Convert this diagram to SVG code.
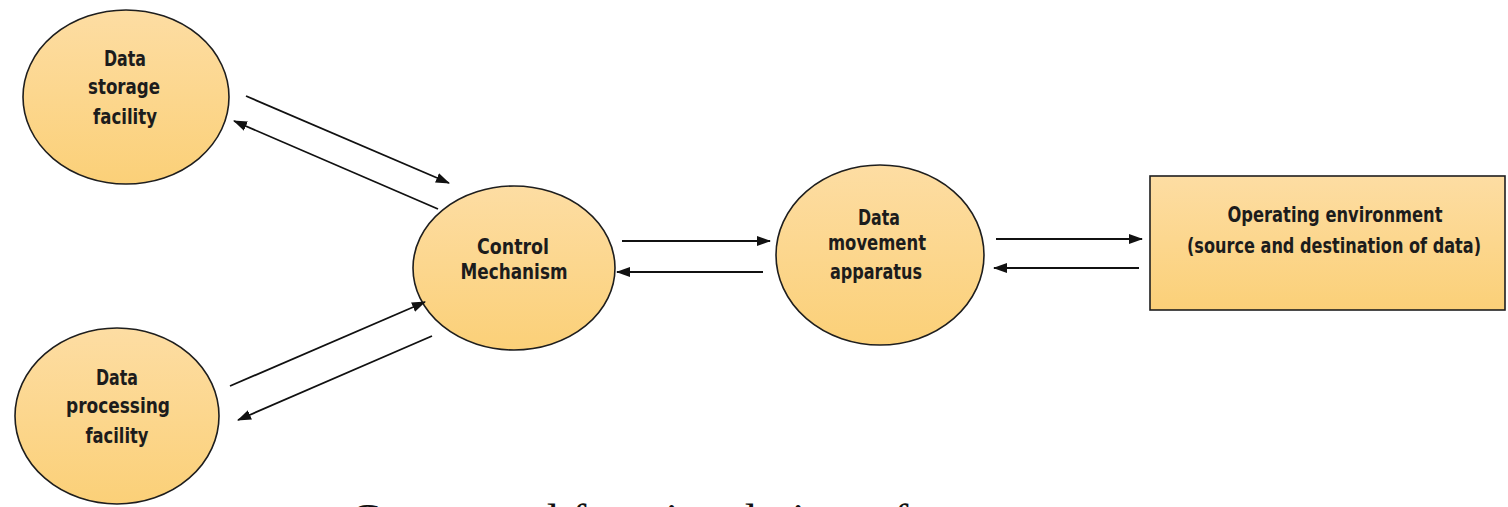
<svg xmlns="http://www.w3.org/2000/svg" width="1508" height="507" viewBox="0 0 1508 507">
<style>
.node{fill:url(#g);stroke:#1e1e1e;stroke-width:1.6}
.lbl{font-family:"DejaVu Sans Condensed","DejaVu Sans",sans-serif;font-weight:bold;font-size:21px;fill:#1c1c1c;text-anchor:middle}
.conn line{stroke:#111;stroke-width:1.8;marker-end:url(#ah)}
.cap{font-family:"Liberation Serif",serif;font-size:46px;fill:#111}
</style>
<defs>
<linearGradient id="g" x1="0" y1="0" x2="0" y2="1">
<stop offset="0" stop-color="#FDDDA3"/>
<stop offset="1" stop-color="#FBD078"/>
</linearGradient>
<marker id="ah" viewBox="0 0 14 10" refX="13" refY="5" markerWidth="14" markerHeight="10" markerUnits="userSpaceOnUse" orient="auto">
<path d="M0,0 L14,5 L0,10 z" fill="#111"/>
</marker>
</defs>
<rect width="1508" height="507" fill="#fff"/>
<g id="storage">
<ellipse class="node" cx="126" cy="97" rx="103" ry="87"/>
<text class="lbl" x="125" y="66" textLength="42" lengthAdjust="spacingAndGlyphs">Data</text>
<text class="lbl" x="124" y="94" textLength="72" lengthAdjust="spacingAndGlyphs">storage</text>
<text class="lbl" x="125" y="124" textLength="64" lengthAdjust="spacingAndGlyphs">facility</text>
</g>
<g id="processing">
<ellipse class="node" cx="117" cy="416" rx="102" ry="88"/>
<text class="lbl" x="117" y="385" textLength="42" lengthAdjust="spacingAndGlyphs">Data</text>
<text class="lbl" x="118" y="413" textLength="104" lengthAdjust="spacingAndGlyphs">processing</text>
<text class="lbl" x="117" y="443" textLength="63" lengthAdjust="spacingAndGlyphs">facility</text>
</g>
<g id="control">
<ellipse class="node" cx="514" cy="268" rx="101" ry="82"/>
<text class="lbl" x="513" y="254" textLength="72" lengthAdjust="spacingAndGlyphs">Control</text>
<text class="lbl" x="514" y="279" textLength="107" lengthAdjust="spacingAndGlyphs">Mechanism</text>
</g>
<g id="movement">
<ellipse class="node" cx="880" cy="255" rx="104" ry="90"/>
<text class="lbl" x="879" y="225" textLength="42" lengthAdjust="spacingAndGlyphs">Data</text>
<text class="lbl" x="877" y="250" textLength="98" lengthAdjust="spacingAndGlyphs">movement</text>
<text class="lbl" x="876" y="279" textLength="92" lengthAdjust="spacingAndGlyphs">apparatus</text>
</g>
<g id="environment">
<rect class="node" x="1150" y="176" width="355" height="134"/>
<text class="lbl" x="1335" y="222" textLength="215" lengthAdjust="spacingAndGlyphs">Operating environment</text>
<text class="lbl" x="1334" y="253" textLength="294" lengthAdjust="spacingAndGlyphs">(source and destination of data)</text>
</g>
<g id="connectors" class="conn">
<line x1="246" y1="96" x2="449" y2="183"/>
<line x1="438" y1="209" x2="234" y2="121"/>
<line x1="230" y1="386" x2="425" y2="302"/>
<line x1="432" y1="336" x2="238" y2="420"/>
<line x1="622" y1="241" x2="770" y2="241"/>
<line x1="763" y1="272" x2="617" y2="272"/>
<line x1="996" y1="239" x2="1142" y2="239"/>
<line x1="1139" y1="268" x2="994" y2="268"/>
</g>
<text class="cap" x="350" y="536">Conceptual functional view of a computer</text>
</svg>
